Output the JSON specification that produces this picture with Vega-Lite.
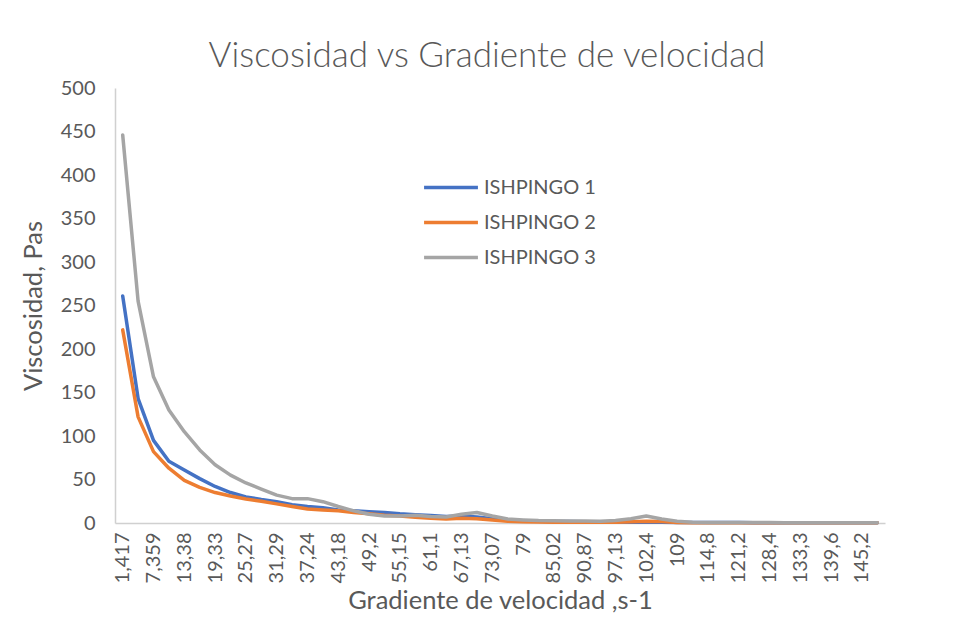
{
  "$schema": "https://vega.github.io/schema/vega-lite/v6.json",
  "width": 770,
  "height": 435,
  "autosize": {"type": "none"},
  "padding": {"left": 115, "top": 88, "right": 72, "bottom": 108},
  "background": "white",
  "title": {
    "text": "Viscosidad vs Gradiente de velocidad",
    "font": "Lato",
    "fontSize": 35,
    "fontWeight": 300,
    "color": "#595959",
    "anchor": "middle",
    "frame": "group",
    "offset": 4,
    "dx": -13
  },
  "data": {
    "values": [
      {"g": "1,417", "a": 261, "b": 222, "c": 446},
      {"g": "4,4", "a": 143, "b": 122, "c": 255},
      {"g": "7,359", "a": 95, "b": 82, "c": 168},
      {"g": "10,4", "a": 71, "b": 63, "c": 130},
      {"g": "13,38", "a": 61, "b": 49, "c": 105},
      {"g": "16,35", "a": 51, "b": 41, "c": 84},
      {"g": "19,33", "a": 42, "b": 35, "c": 67},
      {"g": "22,3", "a": 35, "b": 31, "c": 55},
      {"g": "25,27", "a": 30, "b": 27.5, "c": 46},
      {"g": "28,28", "a": 27, "b": 25, "c": 39},
      {"g": "31,29", "a": 24.5, "b": 22, "c": 32},
      {"g": "34,26", "a": 21, "b": 19, "c": 28},
      {"g": "37,24", "a": 19, "b": 16, "c": 28},
      {"g": "40,21", "a": 17.5, "b": 15, "c": 24.5},
      {"g": "43,18", "a": 15, "b": 14, "c": 19},
      {"g": "46,19", "a": 14, "b": 12, "c": 14},
      {"g": "49,2", "a": 13, "b": 10.5, "c": 10},
      {"g": "52,17", "a": 12, "b": 9, "c": 8},
      {"g": "55,15", "a": 10.5, "b": 8, "c": 8},
      {"g": "58,12", "a": 9.5, "b": 6.5, "c": 9},
      {"g": "61,1", "a": 8.5, "b": 5.5, "c": 7.5},
      {"g": "64,11", "a": 7.5, "b": 4.5, "c": 7},
      {"g": "67,13", "a": 8, "b": 5.5, "c": 10},
      {"g": "70,1", "a": 7, "b": 5, "c": 12},
      {"g": "73,07", "a": 5, "b": 3.5, "c": 8},
      {"g": "76,03", "a": 3.5, "b": 2, "c": 4.5},
      {"g": "79", "a": 2.5, "b": 1.5, "c": 3.5},
      {"g": "82,01", "a": 2, "b": 1.2, "c": 2.8},
      {"g": "85,02", "a": 1.8, "b": 1, "c": 2.5},
      {"g": "87,94", "a": 1.6, "b": 1, "c": 2.3},
      {"g": "90,87", "a": 1.4, "b": 0.9, "c": 2.2},
      {"g": "94", "a": 1.2, "b": 0.8, "c": 2},
      {"g": "97,13", "a": 1.1, "b": 0.8, "c": 3},
      {"g": "100,3", "a": 1, "b": 1.5, "c": 5},
      {"g": "102,4", "a": 0.9, "b": 2, "c": 8},
      {"g": "105,7", "a": 0.8, "b": 1.7, "c": 4.5},
      {"g": "109", "a": 0.7, "b": 0.6, "c": 2},
      {"g": "112", "a": 0.6, "b": 0.4, "c": 1},
      {"g": "114,8", "a": 0.5, "b": 0.4, "c": 0.7},
      {"g": "118", "a": 0.5, "b": 0.35, "c": 0.6},
      {"g": "121,2", "a": 0.45, "b": 0.35, "c": 0.5},
      {"g": "124,8", "a": 0.4, "b": 0.3, "c": 0.5},
      {"g": "128,4", "a": 0.4, "b": 0.3, "c": 0.45},
      {"g": "130,8", "a": 0.35, "b": 0.3, "c": 0.4},
      {"g": "133,3", "a": 0.35, "b": 0.25, "c": 0.4},
      {"g": "136,4", "a": 0.3, "b": 0.25, "c": 0.35},
      {"g": "139,6", "a": 0.3, "b": 0.25, "c": 0.35},
      {"g": "142,4", "a": 0.3, "b": 0.2, "c": 0.3},
      {"g": "145,2", "a": 0.25, "b": 0.2, "c": 0.3},
      {"g": "148", "a": 0.25, "b": 0.2, "c": 0.3}
    ]
  },
  "transform": [
    {"fold": ["a", "b", "c"], "as": ["serie", "v"]}
  ],
  "mark": {"type": "line", "strokeWidth": 3.5, "strokeCap": "round", "strokeJoin": "round"},
  "encoding": {
    "x": {
      "field": "g",
      "type": "nominal",
      "sort": null,
      "scale": {"padding": 0.5},
      "axis": {
        "title": "Gradiente de velocidad ,s-1",
        "titleFontSize": 25.5,
        "values": ["1,417", "7,359", "13,38", "19,33", "25,27", "31,29", "37,24", "43,18", "49,2", "55,15", "61,1", "67,13", "73,07", "79", "85,02", "90,87", "97,13", "102,4", "109", "114,8", "121,2", "128,4", "133,3", "139,6", "145,2"],
        "labelAngle": -90,
        "labelOverlap": false,
        "labelPadding": 9,
        "ticks": false,
        "tickSize": 0,
        "titlePadding": 6
      }
    },
    "y": {
      "field": "v",
      "type": "quantitative",
      "scale": {"domain": [0, 500], "nice": false},
      "axis": {
        "title": "Viscosidad, Pas",
        "titleFontSize": 25.5,
        "values": [0, 50, 100, 150, 200, 250, 300, 350, 400, 450, 500],
        "grid": false,
        "ticks": false,
        "tickSize": 0,
        "labelPadding": 20,
        "titlePadding": 14
      }
    },
    "color": {
      "field": "serie",
      "type": "nominal",
      "scale": {"domain": ["a", "b", "c"], "range": ["#4472C4", "#ED7D31", "#A5A5A5"]},
      "legend": {
        "title": null,
        "orient": "none",
        "legendX": 307,
        "legendY": 82,
        "symbolType": "stroke",
        "symbolSize": 2900,
        "symbolStrokeWidth": 3.5,
        "clipHeight": 35,
        "rowPadding": 0,
        "labelExpr": "datum.value == 'a' ? 'ISHPINGO 1' : datum.value == 'b' ? 'ISHPINGO 2' : 'ISHPINGO 3'",
        "labelFont": "Lato",
        "labelFontSize": 20,
        "labelColor": "#595959",
        "labelOffset": 4
      }
    }
  },
  "config": {
    "view": {"stroke": null},
    "axis": {
      "labelFont": "Lato",
      "labelFontSize": 20,
      "labelColor": "#595959",
      "titleFont": "Lato",
      "titleFontWeight": "normal",
      "titleColor": "#595959",
      "domainColor": "#d0d0d0",
      "domainWidth": 1.5
    }
  }
}
